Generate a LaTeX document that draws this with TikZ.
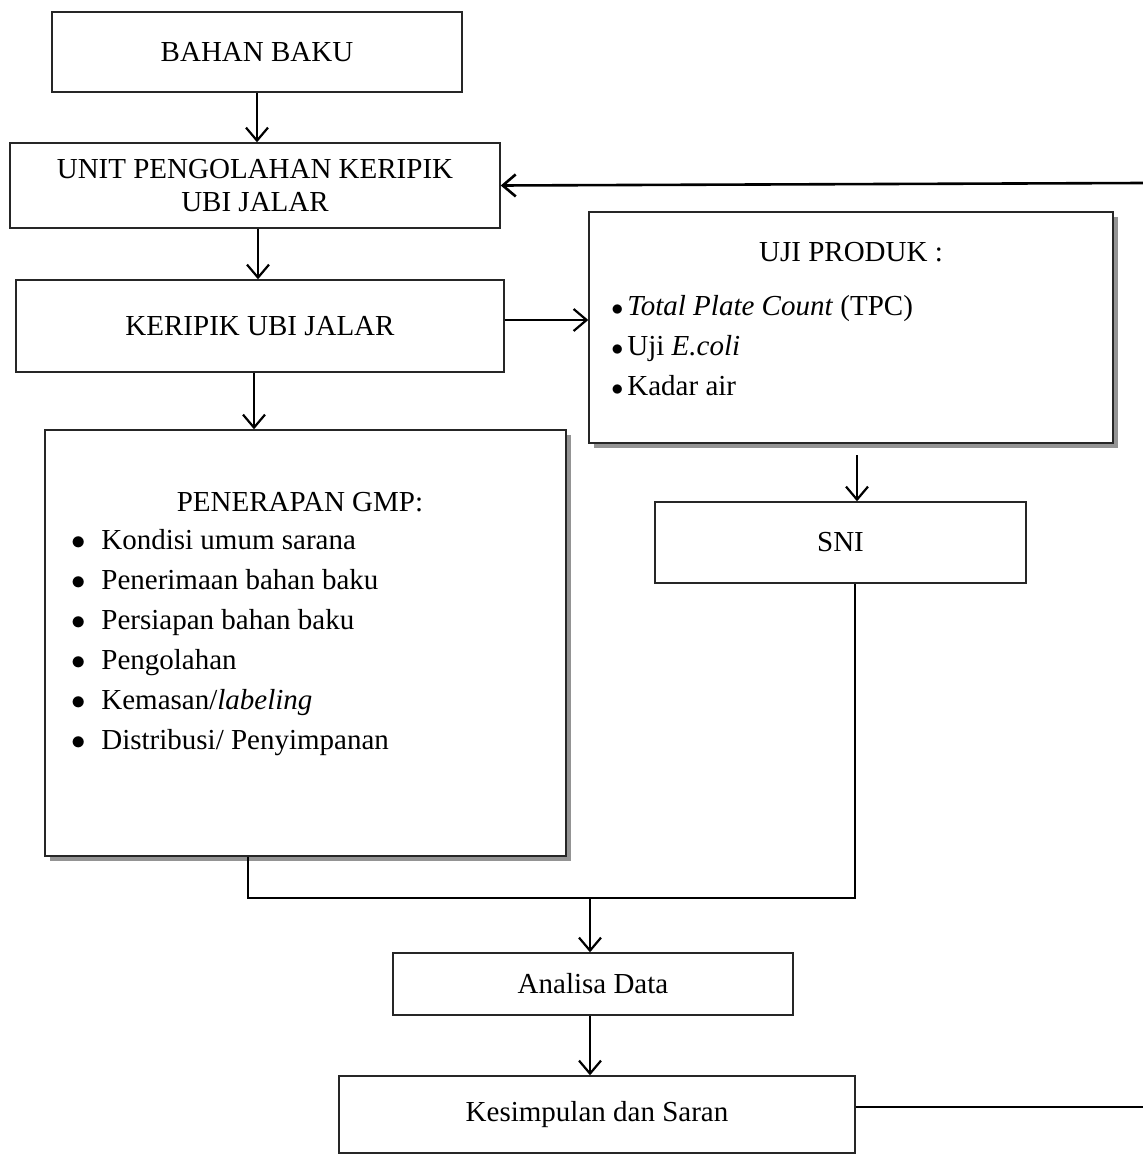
\documentclass[tikz,border=0pt]{standalone}
\usepackage{fontspec}
\setmainfont{Liberation Serif}
\usetikzlibrary{arrows.meta,shadows}
\newcommand{\bigbul}{\makebox[15.5pt][l]{\hspace{0.5pt}$\bullet$}}
\newcommand{\smbul}{\makebox[8pt][l]{\fontsize{12.5}{12}\selectfont$\bullet$}}
\begin{document}
\begin{tikzpicture}[x=0.5pt,y=-0.5pt,
  box/.style={draw=black!85, line width=0.7pt, fill=white, inner sep=0pt,
    font=\fontsize{14.5}{16.5}\selectfont, align=center},
  shbox/.style={box, drop shadow={shadow xshift=2.5pt, shadow yshift=-2.5pt, fill=black!42, opacity=1}},
  arr/.style={-{Straight Barb[length=6.5pt,width=11pt]}, line width=1.1pt},
  thinline/.style={line width=0.6pt},
  txt/.style={inner sep=0pt, font=\fontsize{14.5}{20}\selectfont, align=left}]
\useasboundingbox (0,0) rectangle (1143,1156);

% boxes
\node[box, minimum width=205pt, minimum height=40pt] (bahan) at (257,52) {BAHAN BAKU};
\node[box, minimum width=245pt, minimum height=42.5pt] (unit) at (255,185.5) {UNIT PENGOLAHAN KERIPIK\\UBI JALAR};
\node[box, minimum width=244pt, minimum height=46pt] (keripik) at (260,326) {KERIPIK UBI JALAR};
\node[shbox, minimum width=262pt, minimum height=115.5pt] (uji) at (851,327.5) {};
\node[txt] (ujititle) at (851,252) {UJI PRODUK :};
\node[txt, anchor=west] (ujilist) at (611,346) {\smbul\textit{Total Plate Count} (TPC)\\
  \smbul Uji \textit{E.coli}\\
  \smbul Kadar air};
\node[shbox, minimum width=260.5pt, minimum height=213pt] (gmp) at (305.5,643) {};
\node[txt] (gmptitle) at (300,502) {PENERAPAN GMP:};
\node[txt, anchor=west] (gmplist) at (70,643) {\bigbul Kondisi umum sarana\\
  \bigbul Penerimaan bahan baku\\
  \bigbul Persiapan bahan baku\\
  \bigbul Pengolahan\\
  \bigbul Kemasan/\textit{labeling}\\
  \bigbul Distribusi/ Penyimpanan};
\node[box, minimum width=185.5pt, minimum height=40.5pt] (sni) at (840.5,542.5) {SNI};
\node[box, minimum width=200pt, minimum height=31pt] (analisa) at (593,984) {Analisa Data};
\node[box, minimum width=258pt, minimum height=38.5pt] (kes) at (597,1114.5) {Kesimpulan dan Saran};

% helper coordinates
\coordinate (rtop) at (1143,183);
\coordinate (rbot) at (1143,1107);
\coordinate (ujiout) at (857,455);
\coordinate (jm) at (590,898);
\coordinate (u1) at ([xshift=1.5pt]unit.south);
\coordinate (k1) at ([yshift=3pt]keripik.east);
\coordinate (k2) at ([xshift=-3pt]keripik.south);
\coordinate (s1) at ([xshift=7.25pt]sni.south);
\coordinate (g1) at ([xshift=-28.75pt]gmp.south);
\coordinate (a1) at ([xshift=-1.5pt]analisa.south);
\coordinate (kr) at ([yshift=3.75pt]kes.east);

% connectors
\draw[arr] (bahan.south) -- (bahan.south |- unit.north);
\draw[arr, line width=1.3pt] (rtop) -- (unit.east);
\draw[arr] (u1) -- (u1 |- keripik.north);
\draw[arr] (k1) -- (k1 -| uji.west);
\draw[arr] (k2) -- (k2 |- gmp.north);
\draw[arr] (ujiout) -- (ujiout |- sni.north);
\draw[thinline] (g1) -- (g1 |- jm) -- (s1 |- jm) -- (s1);
\draw[arr] (jm) -- (jm |- analisa.north);
\draw[arr] (a1) -- (a1 |- kes.north);
\draw[thinline] (kr) -- (kr -| rbot);
\end{tikzpicture}
\end{document}
